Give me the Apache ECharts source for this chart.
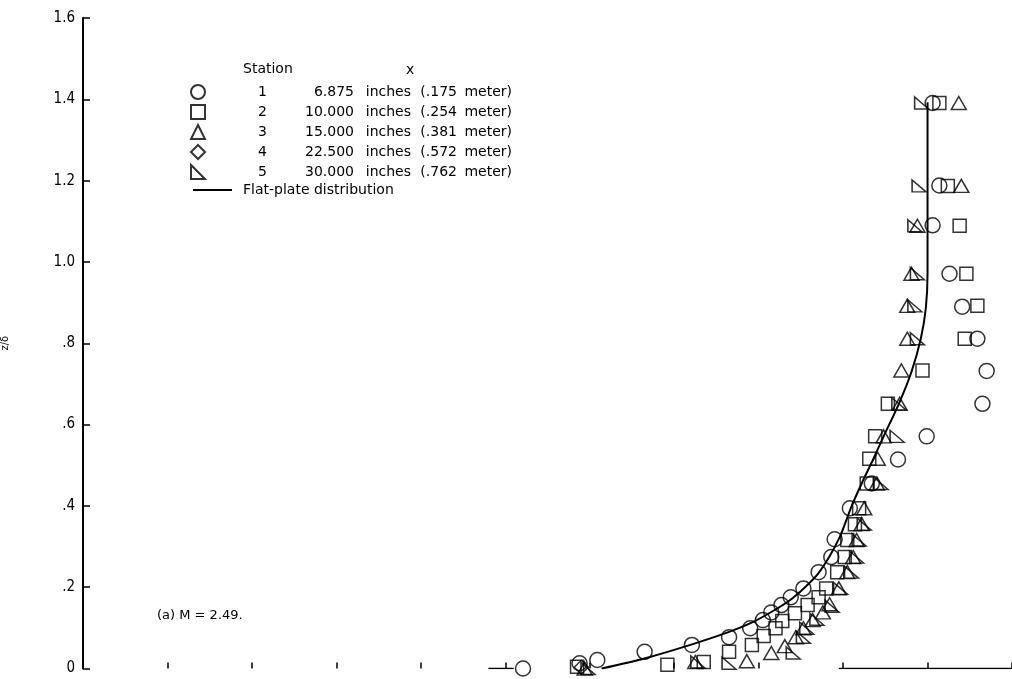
<!DOCTYPE html>
<html><head><meta charset="utf-8">
<script src="https://cdn.jsdelivr.net/npm/echarts@6/dist/echarts.min.js"></script>
<style>html,body{margin:0;padding:0;background:#fff}#c{width:1012px;height:679px}</style>
</head><body><div id="c"></div>
<script>
// ---- data ----
const yTickLabels = ['0', '.2', '.4', '.6', '.8', '1.0', '1.2', '1.4', '1.6'];
const stationNames = ['Station 1', 'Station 2', 'Station 3', 'Station 4', 'Station 5'];
const stationNums = ['1', '2', '3', '4', '5'];
const stationInches = ['6.875', '10.000', '15.000', '22.500', '30.000'];
const stationMeters = ['(.175', '(.254', '(.381', '(.572', '(.762'];
const station1 = [[0.521,0],[0.588,0.013],[0.609,0.021],[0.665,0.041],[0.721,0.058],[0.765,0.077],[0.790,0.099],[0.805,0.119],[0.815,0.138],[0.827,0.156],[0.838,0.175],[0.853,0.197],[0.871,0.237],[0.886,0.274],[0.890,0.318],[0.908,0.394],[0.934,0.455],[0.965,0.514],[0.999,0.571],[1.065,0.651],[1.070,0.732],[1.059,0.811],[1.041,0.890],[1.026,0.971],[1.006,1.090],[1.014,1.188],[1.006,1.391]];
const station2 = [[0.585,0.004],[0.692,0.009],[0.735,0.016],[0.765,0.041],[0.792,0.058],[0.806,0.080],[0.820,0.099],[0.828,0.117],[0.843,0.136],[0.858,0.156],[0.871,0.175],[0.880,0.197],[0.893,0.237],[0.902,0.274],[0.905,0.316],[0.914,0.355],[0.919,0.394],[0.928,0.455],[0.931,0.516],[0.938,0.571],[0.953,0.651],[0.994,0.733],[1.044,0.811],[1.059,0.892],[1.046,0.971],[1.038,1.089],[1.024,1.187],[1.014,1.391]];
const station3 = [[0.594,0.0],[0.725,0.016],[0.786,0.018],[0.815,0.038],[0.831,0.055],[0.844,0.077],[0.853,0.099],[0.864,0.119],[0.876,0.138],[0.884,0.158],[0.895,0.197],[0.905,0.237],[0.912,0.274],[0.916,0.316],[0.922,0.355],[0.925,0.394],[0.940,0.455],[0.941,0.516],[0.948,0.571],[0.967,0.651],[0.969,0.733],[0.976,0.811],[0.976,0.892],[0.981,0.971],[0.988,1.089],[1.040,1.187],[1.037,1.391]];
const station4 = [[0.590,0.003]];
const station5 = [[0.598,0.0],[0.728,0.016],[0.765,0.013],[0.841,0.038],[0.853,0.077],[0.857,0.099],[0.869,0.121],[0.887,0.153],[0.897,0.197],[0.910,0.237],[0.916,0.274],[0.919,0.316],[0.925,0.355],[0.945,0.455],[0.964,0.571],[0.966,0.651],[0.988,0.811],[0.985,0.892],[0.988,0.971],[0.985,1.089],[0.990,1.187],[0.993,1.391]];
const flatPlate = [[0.614,0.000],[0.667,0.026],[0.722,0.060],[0.765,0.090],[0.791,0.112],[0.815,0.139],[0.837,0.168],[0.854,0.198],[0.870,0.232],[0.884,0.276],[0.896,0.323],[0.903,0.360],[0.910,0.399],[0.922,0.455],[0.935,0.512],[0.948,0.571],[0.966,0.651],[0.981,0.730],[0.992,0.811],[0.998,0.887],[1.000,0.973],[1.000,1.052],[1.000,1.393]];
const axisSegA = [[0.48,0],[0.51,0]];
const axisSegB = [[0.895,0],[1.1,0]];

const FONT = '"DejaVu Sans Condensed","Liberation Sans Narrow","DejaVu Sans",sans-serif';
const LFONT = '"DejaVu Sans",sans-serif';
const symbols = ['circle', 'rect', 'triangle', 'diamond', 'path://M0,0L0,10L10,10Z'];
const sizes = [15, 13, [15, 13], 14, [14, 12]];
const allData = [station1, station2, station3, station4, station5];

const mk = { color: 'rgba(0,0,0,0)', borderColor: '#000', borderWidth: 1.5 };
const series = stationNames.map((n, i) => ({
  name: n, type: 'scatter', data: allData[i], symbol: symbols[i], symbolSize: sizes[i],
  itemStyle: mk, emphasis: { disabled: true }, z: 3
}));
series.push({ name: 'Flat-plate distribution', type: 'line', data: flatPlate, smooth: 0.3, symbol: 'none',
  lineStyle: { color: '#000', width: 2 }, itemStyle: { color: '#000' }, z: 2 });
series.push({ type: 'line', data: axisSegA, symbol: 'none', lineStyle: { color: '#000', width: 1.5 }, silent: true });
series.push({ type: 'line', data: axisSegB, symbol: 'none', lineStyle: { color: '#000', width: 1.5 }, silent: true });

const base = { fontFamily: LFONT, fontSize: 14, color: '#000', lineHeight: 20 };
const rich = {
  n: Object.assign({ width: 57, align: 'right' }, base),
  v: Object.assign({ width: 87, align: 'right' }, base),
  i: Object.assign({ width: 57, align: 'right' }, base),
  m: Object.assign({ width: 46, align: 'right' }, base),
  u: Object.assign({ width: 55, align: 'right' }, base)
};

const chart = echarts.init(document.getElementById('c'), null, { renderer: 'canvas' });
chart.setOption({
  animation: false,
  backgroundColor: '#fff',
  grid: { left: 83, right: 0, top: 18, bottom: 10.5, containLabel: false, outerBoundsMode: 'none' },
  xAxis: {
    type: 'value', min: 0, max: 1.1, interval: 0.1,
    axisLine: { show: false },
    axisTick: { show: true, inside: true, length: 6, lineStyle: { color: '#000', width: 1.5 } },
    axisLabel: { show: false }, splitLine: { show: false }
  },
  yAxis: {
    type: 'value', min: 0, max: 1.6, interval: 0.2,
    name: 'z/δ', nameLocation: 'middle', nameGap: 72, nameRotate: 90,
    nameTextStyle: { fontFamily: FONT, fontSize: 11, color: '#000' },
    axisLine: { show: true, lineStyle: { color: '#000', width: 2 } },
    axisTick: { show: true, inside: true, length: 7, lineStyle: { color: '#000', width: 1.5 } },
    axisLabel: { margin: 8, fontFamily: FONT, fontSize: 15, color: '#000',
      formatter: (v) => yTickLabels[Math.round(v / 0.2)] },
    splitLine: { show: false }
  },
  legend: [
    {
      data: stationNames, orient: 'vertical', left: 190, top: 82, padding: 0,
      itemWidth: 14, itemHeight: 14, itemGap: 0, selectedMode: false,
      textStyle: { rich: rich, fontFamily: LFONT, fontSize: 14, color: '#000', lineHeight: 20 },
      formatter: (name) => {
        const i = stationNames.indexOf(name);
        return '{n|' + stationNums[i] + '}{v|' + stationInches[i] + '}{i|inches}{m|' + stationMeters[i] + '}{u|meter)}';
      }
    },
    {
      data: [{ name: 'Flat-plate distribution', icon: 'path://M0,0L40,0L40,2L0,2Z' }],
      orient: 'vertical', left: 193, top: 180, padding: 0, itemWidth: 39, itemHeight: 2,
      selectedMode: false,
      textStyle: { fontFamily: LFONT, fontSize: 14, color: '#000', lineHeight: 20, padding: [0, 0, 0, 6] }
    }
  ],
  graphic: [
    { type: 'text', left: 243, top: 62, style: { text: 'Station', fontFamily: LFONT, fontSize: 14, fill: '#000' } },
    { type: 'text', left: 406, top: 63, style: { text: 'x', fontFamily: LFONT, fontSize: 14, fill: '#000' } },
    { type: 'text', left: 157, top: 609, style: { text: '(a) M = 2.49.', fontFamily: LFONT, fontSize: 13, fill: '#000' } }
  ],
  series: series
});
</script></body></html>
